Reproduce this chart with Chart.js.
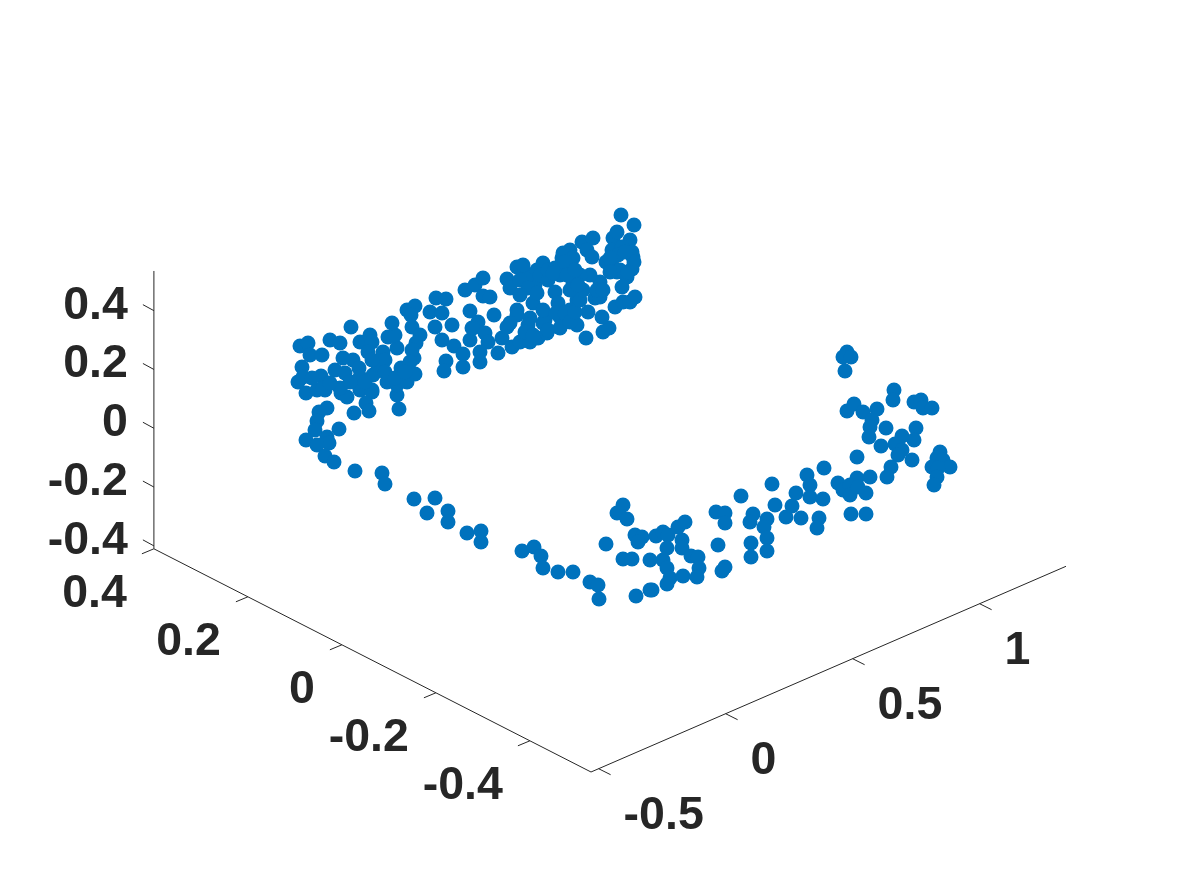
<!DOCTYPE html>
<html>
<head>
<meta charset="utf-8">
<title>3D scatter</title>
<script src="https://cdn.jsdelivr.net/npm/chart.js@4/dist/chart.umd.min.js"></script>
<style>
  html, body { margin: 0; padding: 0; background: #fff; }
  canvas { display: block; }
</style>
</head>
<body>
<canvas id="chart" width="1178" height="869"></canvas>
<script>
const viewU = [
  306,325,341,347,360,372,366,369,354,399,397,327,319,317,315,339,306,327,329,317,325,334,355,382,385,414,435,427,448,448,467,
  481,481,522,534,541,543,558,573,590,598,599,623,617,627,606,635,642,638,623,632,650,636,650,
  656,663,668,678,685,682,682,667,663,667,670,683,667,652,691,698,699,697,718,725,722,716,725,725,741,753,750,751,751,767,764,767,767,772,775,786,792,801,796,807,810,810,
  847,843,851,845,894,893,847,854,863,877,872,870,869,886,881,914,921,923,932,916,914,902,895,902,898,912,857,891,887,870,857,838,843,850,850,858,866,851,866,824,823,819,817,
  940,937,943,950,932,938,937,934,
  300,308,310,322,302,298,303,321,317,330,340,351,360,370,372,368,383,397,388,395,392,407,415,411,412,420,416,414,407,415,401,407,397,387,373,378,353,343,335,345,359,360,360,372,340,323,
  430,436,446,442,435,452,442,454,446,444,463,463,465,470,472,470,
  475,483,483,490,494,478,473,485,488,498,480,480,502,507,517,512,520,530,538,547,560,577,586,603,609,588,602,595,600,600,590,580,573,577,570,560,545,543,533,530,528,517,510,555,558,535,528,507,510,517,523,537,543,540,548,560,562,570,563,582,593,587,592,573,567,606,613,617,630,612,622,632,633,612,617,632,627,622,615,623,630,635,621,634,
  548,555,565,553,567,575,520,528,537,520,525,533,543,556,565,548,570,575,580,583,570,578,618,610,620,634,625,628,610,597,603,412,410,385,372,312,330,350,365,385,395,405
];
const viewV = [
  393,390,393,397,390,392,403,411,413,409,395,408,412,421,430,429,440,437,443,445,456,462,471,473,484,499,498,513,511,522,533,
  531,542,551,547,556,568,572,572,582,585,599,505,513,519,544,535,537,542,559,559,560,596,590,
  536,532,535,527,522,540,548,548,560,568,578,576,584,590,556,557,568,577,545,567,571,512,513,523,496,514,522,543,557,519,527,538,551,484,505,517,506,518,493,475,485,497,
  352,357,357,371,390,400,411,404,412,409,420,427,437,428,446,402,400,408,408,428,440,436,444,450,455,460,457,467,477,477,478,483,490,485,495,487,493,514,514,468,499,518,528,
  452,458,460,467,467,468,477,485,
  346,343,355,355,367,382,377,376,390,340,343,327,342,335,342,352,352,348,337,335,323,310,306,315,327,335,343,358,368,374,368,382,385,382,375,365,360,358,370,373,368,377,388,390,388,388,
  312,298,299,313,327,325,340,346,361,371,354,367,290,311,328,340,
  285,278,296,297,315,322,328,333,342,353,352,362,338,327,310,347,342,342,338,333,328,325,338,332,328,312,317,298,297,282,275,275,283,300,310,317,320,323,303,318,325,315,323,292,303,285,275,279,288,267,265,270,263,275,280,275,258,250,253,242,238,250,257,258,267,262,238,232,240,250,247,252,257,265,272,269,277,287,307,302,302,297,215,225,
  270,268,262,273,275,270,280,288,293,295,332,335,310,313,313,330,322,312,300,290,290,285,255,258,270,262,252,272,272,290,290,350,362,360,360,378,383,382,382,372,378,372
];

const xTicks = [-0.5, 0, 0.5, 1];
const yTicks = [-0.4, -0.2, 0, 0.2, 0.4];
const zTicks = [-0.4, -0.2, 0, 0.2, 0.4];
const xTickLabels = ['-0.5', '0', '0.5', '1'];
const yTickLabels = ['-0.4', '-0.2', '0', '0.2', '0.4'];
const zTickLabels = ['-0.4', '-0.2', '0', '0.2', '0.4'];
const xLim = [-0.53, 1.34];
const yLim = [-0.53, 0.4];
const zLim = [-0.41, 0.535];

const AXIS_COLOR = '#262626';
const DOT_COLOR = '#0072BD';

// orthographic view of the box, gives view plane coordinates
function project(x, y, z) {
  const dx = x - xLim[0], dy = y - yLim[0], dz = z - zLim[0];
  return { x: 591 + 254 * dx - 470 * dy, y: 772 - 110 * dx - 240 * dy - 294 * dz };
}

function lineDataset(a, b) {
  return {
    type: 'line',
    data: [a, b],
    borderColor: AXIS_COLOR,
    borderWidth: 1,
    pointRadius: 0,
    fill: false,
    tension: 0,
    order: 2
  };
}

function tickDataset(p, dx, dy) {
  return lineDataset(p, { x: p.x + dx, y: p.y + dy });
}

function xTickPos(v) { return project(v, yLim[0], zLim[0]); }
function yTickPos(v) { return project(xLim[0], v, zLim[0]); }
function zTickPos(v) { return project(xLim[0], yLim[1], v); }

const axisSets = [
  lineDataset(project(xLim[0], yLim[0], zLim[0]), project(xLim[1], yLim[0], zLim[0])),
  lineDataset(project(xLim[0], yLim[0], zLim[0]), project(xLim[0], yLim[1], zLim[0])),
  lineDataset(project(xLim[0], yLim[1], zLim[0]), project(xLim[0], yLim[1], zLim[1])),
  ...xTicks.map(v => tickDataset(xTickPos(v), 12, 6)),
  ...yTicks.map(v => tickDataset(yTickPos(v), -12, 5)),
  ...zTicks.map(v => tickDataset(zTickPos(v), -11, -6))
];

// tick labels go next to the ticks, same scales as the marks
const tickLabelPlugin = {
  id: 'tickLabels',
  afterDraw(chart) {
    const { ctx, scales } = chart;
    const put = (text, p, dx, dy, align) => {
      ctx.textAlign = align;
      ctx.fillText(text, scales.x.getPixelForValue(p.x) + dx, scales.y.getPixelForValue(p.y) + dy);
    };
    ctx.save();
    ctx.font = 'bold 46.5px "Liberation Sans", Arial, sans-serif';
    ctx.fillStyle = AXIS_COLOR;
    ctx.textBaseline = 'alphabetic';
    xTicks.forEach((v, i) => put(xTickLabels[i], xTickPos(v), 25, 60, 'left'));
    yTicks.forEach((v, i) => put(yTickLabels[i], yTickPos(v), -27, 58, 'right'));
    zTicks.forEach((v, i) => put(zTickLabels[i], zTickPos(v), -26, 8, 'right'));
    ctx.restore();
  }
};

new Chart(document.getElementById('chart').getContext('2d'), {
  type: 'scatter',
  data: {
    datasets: [
      {
        data: viewU.map((u, i) => ({ x: u, y: viewV[i] })),
        backgroundColor: DOT_COLOR,
        borderWidth: 0,
        pointRadius: 7.5,
        order: 1
      },
      ...axisSets
    ]
  },
  options: {
    responsive: false,
    animation: false,
    layout: { padding: 0, autoPadding: false },
    scales: {
      x: { type: 'linear', display: false, min: 0, max: 1178 },
      y: { type: 'linear', display: false, min: 0, max: 869, reverse: true }
    },
    plugins: {
      legend: { display: false },
      tooltip: { enabled: false }
    }
  },
  plugins: [tickLabelPlugin]
});
</script>
</body>
</html>
